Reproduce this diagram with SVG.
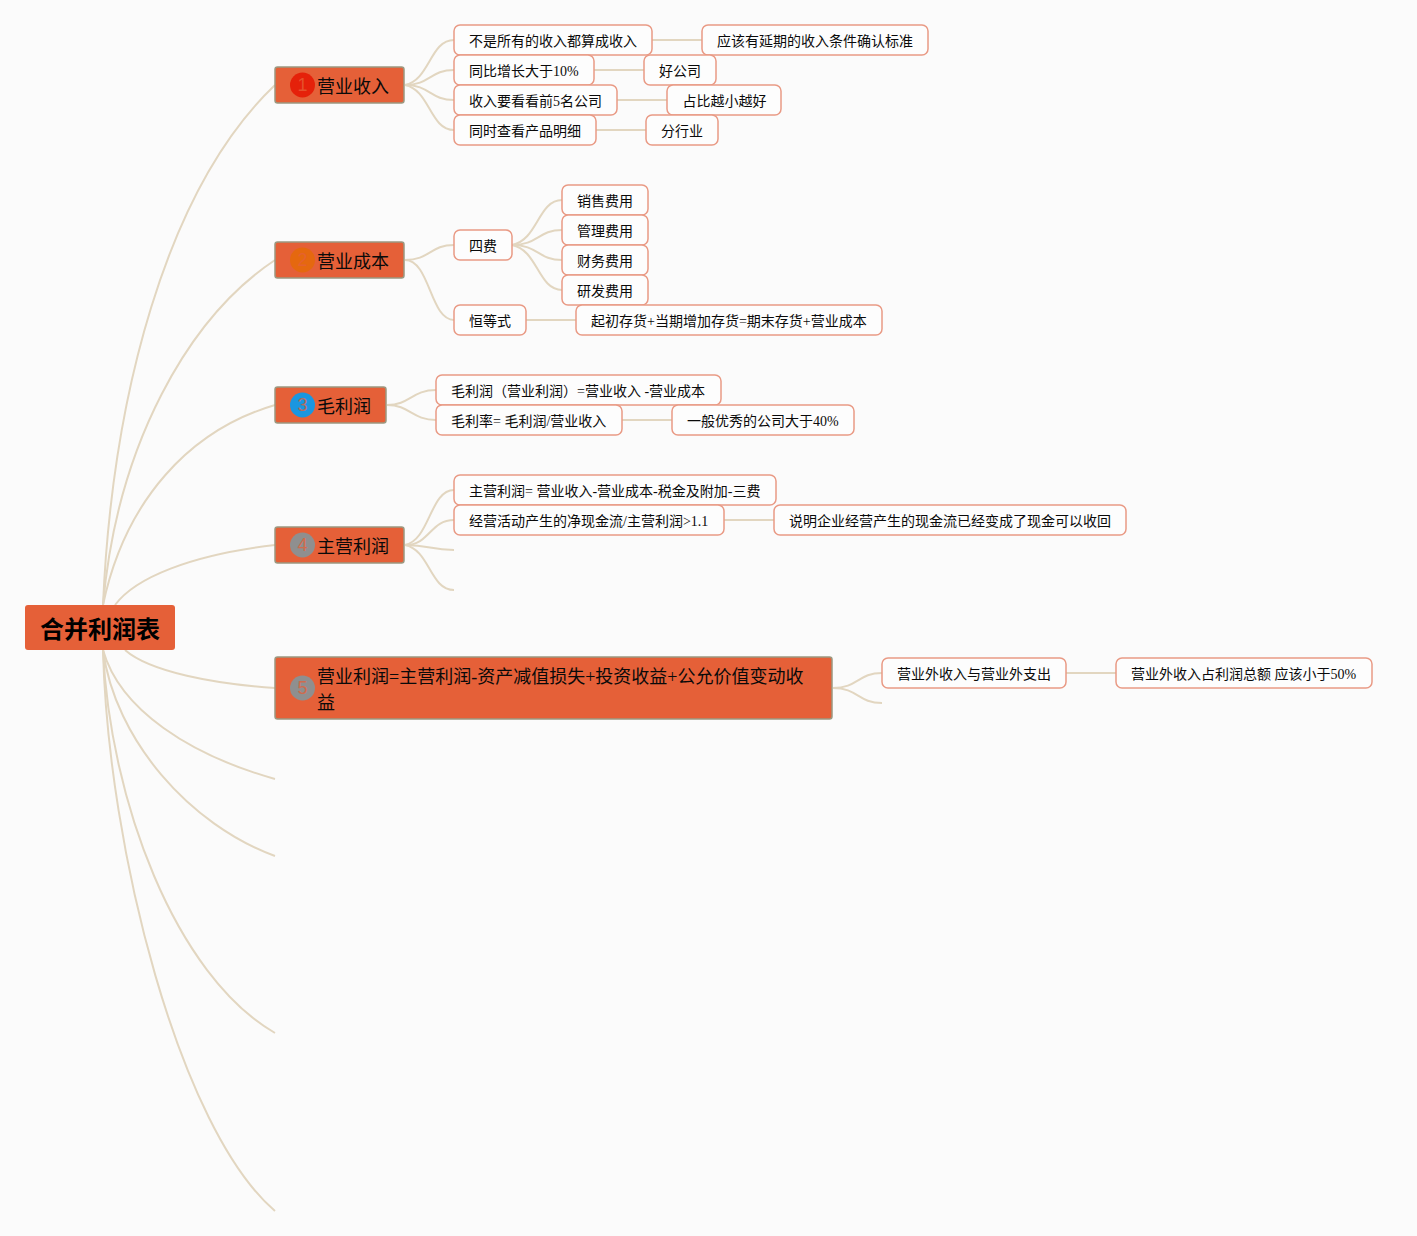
<svg xmlns="http://www.w3.org/2000/svg" width="1417" height="1236" viewBox="0 0 1417 1236">
<style>
text{font-family:"Liberation Serif","Noto Sans CJK SC",serif;fill:#0a0a0a}
.c{fill:none;stroke:#e2d6c0;stroke-width:2}
.l rect{fill:#fdfdfd;stroke:#e99a85;stroke-width:1.5}
.l text{font-size:14px}
.b rect{fill:#e56038;stroke:#9c9880;stroke-width:1.5}
.b text{font-size:18px}
.b text.n{font-size:18px;fill:#e56038;opacity:.75;text-anchor:middle;font-family:"Liberation Sans",sans-serif}
</style>
<rect width="1417" height="1236" fill="#fbfbfb"/>
<g id="connectors">
<path class="c" d="M103,605C112,400 165,190 275,85"/>
<path class="c" d="M103,605C117,445 188,318 275,260"/>
<path class="c" d="M103,605C125,500 190,430 275,405"/>
<path class="c" d="M115,605C135,578 190,555 275,545"/>
<path class="c" d="M125,650C150,672 215,684 275,688"/>
<path class="c" d="M103,650C120,710 190,755 275,779"/>
<path class="c" d="M103,650C115,740 190,825 275,856"/>
<path class="c" d="M103,650C110,800 175,975 275,1033"/>
<path class="c" d="M103,650C108,850 180,1130 275,1211"/>
<path class="c" d="M405,85C430,80 430,40 454,40"/>
<path class="c" d="M405,85C430,85 430,70 454,70"/>
<path class="c" d="M405,85C430,85 430,100 454,100"/>
<path class="c" d="M405,85C430,90 430,130 454,130"/>
<path class="c" d="M405,260C430,260 430,245 454,245"/>
<path class="c" d="M405,260C430,260 430,320 454,320"/>
<path class="c" d="M387,405C410,405 412,390 436,390"/>
<path class="c" d="M387,405C410,405 412,420 436,420"/>
<path class="c" d="M405,545C430,540 430,490 454,490"/>
<path class="c" d="M405,545C430,545 430,520 454,520"/>
<path class="c" d="M405,545C430,545 430,550 454,550"/>
<path class="c" d="M405,545C430,550 430,590 454,590"/>
<path class="c" d="M512,245C538,240 538,200 562,200"/>
<path class="c" d="M512,245C538,245 538,230 562,230"/>
<path class="c" d="M512,245C538,245 538,260 562,260"/>
<path class="c" d="M512,245C538,250 538,290 562,290"/>
<path class="c" d="M833,688C858,688 858,673 882,673"/>
<path class="c" d="M833,688C858,688 858,703 882,703"/>
<path class="c" d="M652,40H702M594,70H644M617,100H667M596,130H646M526,320H576M622,420H672M724,520H774M1066,673H1116"/>
</g>
<g id="root"><rect x="25" y="605" width="150" height="45" rx="3" fill="#e56038"/><text x="100" y="638" font-size="24" font-weight="700" text-anchor="middle" style="font-family:'Noto Sans CJK SC',sans-serif;fill:#000">合并利润表</text></g>
<g id="b1" class="b"><rect x="275" y="67" width="129" height="36" rx="2.500"/><circle cx="302.500" cy="85" r="12.500" fill="#e5210a"/><text class="n" x="302.500" y="91">1</text><text x="317" y="93">营业收入</text></g>
<g id="b2" class="b"><rect x="275" y="242" width="129" height="36" rx="2.500"/><circle cx="302.500" cy="260" r="12.500" fill="#e5680f"/><text class="n" x="302.500" y="266">2</text><text x="317" y="268">营业成本</text></g>
<g id="b3" class="b"><rect x="275" y="387" width="111" height="36" rx="2.500"/><circle cx="302.500" cy="405" r="12.500" fill="#1a96e0"/><text class="n" x="302.500" y="411">3</text><text x="317" y="413">毛利润</text></g>
<g id="b4" class="b"><rect x="275" y="527" width="129" height="36" rx="2.500"/><circle cx="302.500" cy="545" r="12.500" fill="#8f8f8f"/><text class="n" x="302.500" y="551">4</text><text x="317" y="553">主营利润</text></g>
<g id="b5" class="b"><rect x="275" y="657" width="557" height="62" rx="2.500"/><circle cx="302.500" cy="688" r="12.500" fill="#8f8f8f"/><text class="n" x="302.500" y="694">5</text><text x="317" y="683">营业利润=主营利润-资产减值损失+投资收益+公允价值变动收</text><text x="317" y="709">益</text></g>
<g id="n1" class="l"><rect x="454" y="25" width="198" height="30" rx="6"/><text x="469" y="46">不是所有的收入都算成收入</text></g>
<g id="n2" class="l"><rect x="702" y="25" width="226" height="30" rx="6"/><text x="717" y="46">应该有延期的收入条件确认标准</text></g>
<g id="n3" class="l"><rect x="454" y="55" width="140" height="30" rx="6"/><text x="469" y="76">同比增长大于10%</text></g>
<g id="n4" class="l"><rect x="644" y="55" width="72" height="30" rx="6"/><text x="659" y="76">好公司</text></g>
<g id="n5" class="l"><rect x="454" y="85" width="163" height="30" rx="6"/><text x="469" y="106">收入要看看前5名公司</text></g>
<g id="n6" class="l"><rect x="667" y="85" width="114" height="30" rx="6"/><text x="682.500" y="106">占比越小越好</text></g>
<g id="n7" class="l"><rect x="454" y="115" width="142" height="30" rx="6"/><text x="469" y="136">同时查看产品明细</text></g>
<g id="n8" class="l"><rect x="646" y="115" width="72" height="30" rx="6"/><text x="661" y="136">分行业</text></g>
<g id="n9" class="l"><rect x="454" y="230" width="58" height="30" rx="6"/><text x="469" y="251">四费</text></g>
<g id="n10" class="l"><rect x="562" y="185" width="86" height="30" rx="6"/><text x="577" y="206">销售费用</text></g>
<g id="n11" class="l"><rect x="562" y="215" width="86" height="30" rx="6"/><text x="577" y="236">管理费用</text></g>
<g id="n12" class="l"><rect x="562" y="245" width="86" height="30" rx="6"/><text x="577" y="266">财务费用</text></g>
<g id="n13" class="l"><rect x="562" y="275" width="86" height="30" rx="6"/><text x="577" y="296">研发费用</text></g>
<g id="n14" class="l"><rect x="454" y="305" width="72" height="30" rx="6"/><text x="469" y="326">恒等式</text></g>
<g id="n15" class="l"><rect x="576" y="305" width="306" height="30" rx="6"/><text x="591" y="326">起初存货+当期增加存货=期末存货+营业成本</text></g>
<g id="n16" class="l"><rect x="436" y="375" width="285" height="30" rx="6"/><text x="451" y="396">毛利润（营业利润）=营业收入 -营业成本</text></g>
<g id="n17" class="l"><rect x="436" y="405" width="186" height="30" rx="6"/><text x="451" y="426">毛利率= 毛利润/营业收入</text></g>
<g id="n18" class="l"><rect x="672" y="405" width="182" height="30" rx="6"/><text x="687" y="426">一般优秀的公司大于40%</text></g>
<g id="n19" class="l"><rect x="454" y="475" width="322" height="30" rx="6"/><text x="469" y="496">主营利润= 营业收入-营业成本-税金及附加-三费</text></g>
<g id="n20" class="l"><rect x="454" y="505" width="270" height="30" rx="6"/><text x="469" y="526">经营活动产生的净现金流/主营利润&gt;1.1</text></g>
<g id="n21" class="l"><rect x="774" y="505" width="352" height="30" rx="6"/><text x="789" y="526">说明企业经营产生的现金流已经变成了现金可以收回</text></g>
<g id="n22" class="l"><rect x="882" y="658" width="184" height="30" rx="6"/><text x="897" y="679">营业外收入与营业外支出</text></g>
<g id="n23" class="l"><rect x="1116" y="658" width="256" height="30" rx="6"/><text x="1131" y="679">营业外收入占利润总额 应该小于50%</text></g>
</svg>
